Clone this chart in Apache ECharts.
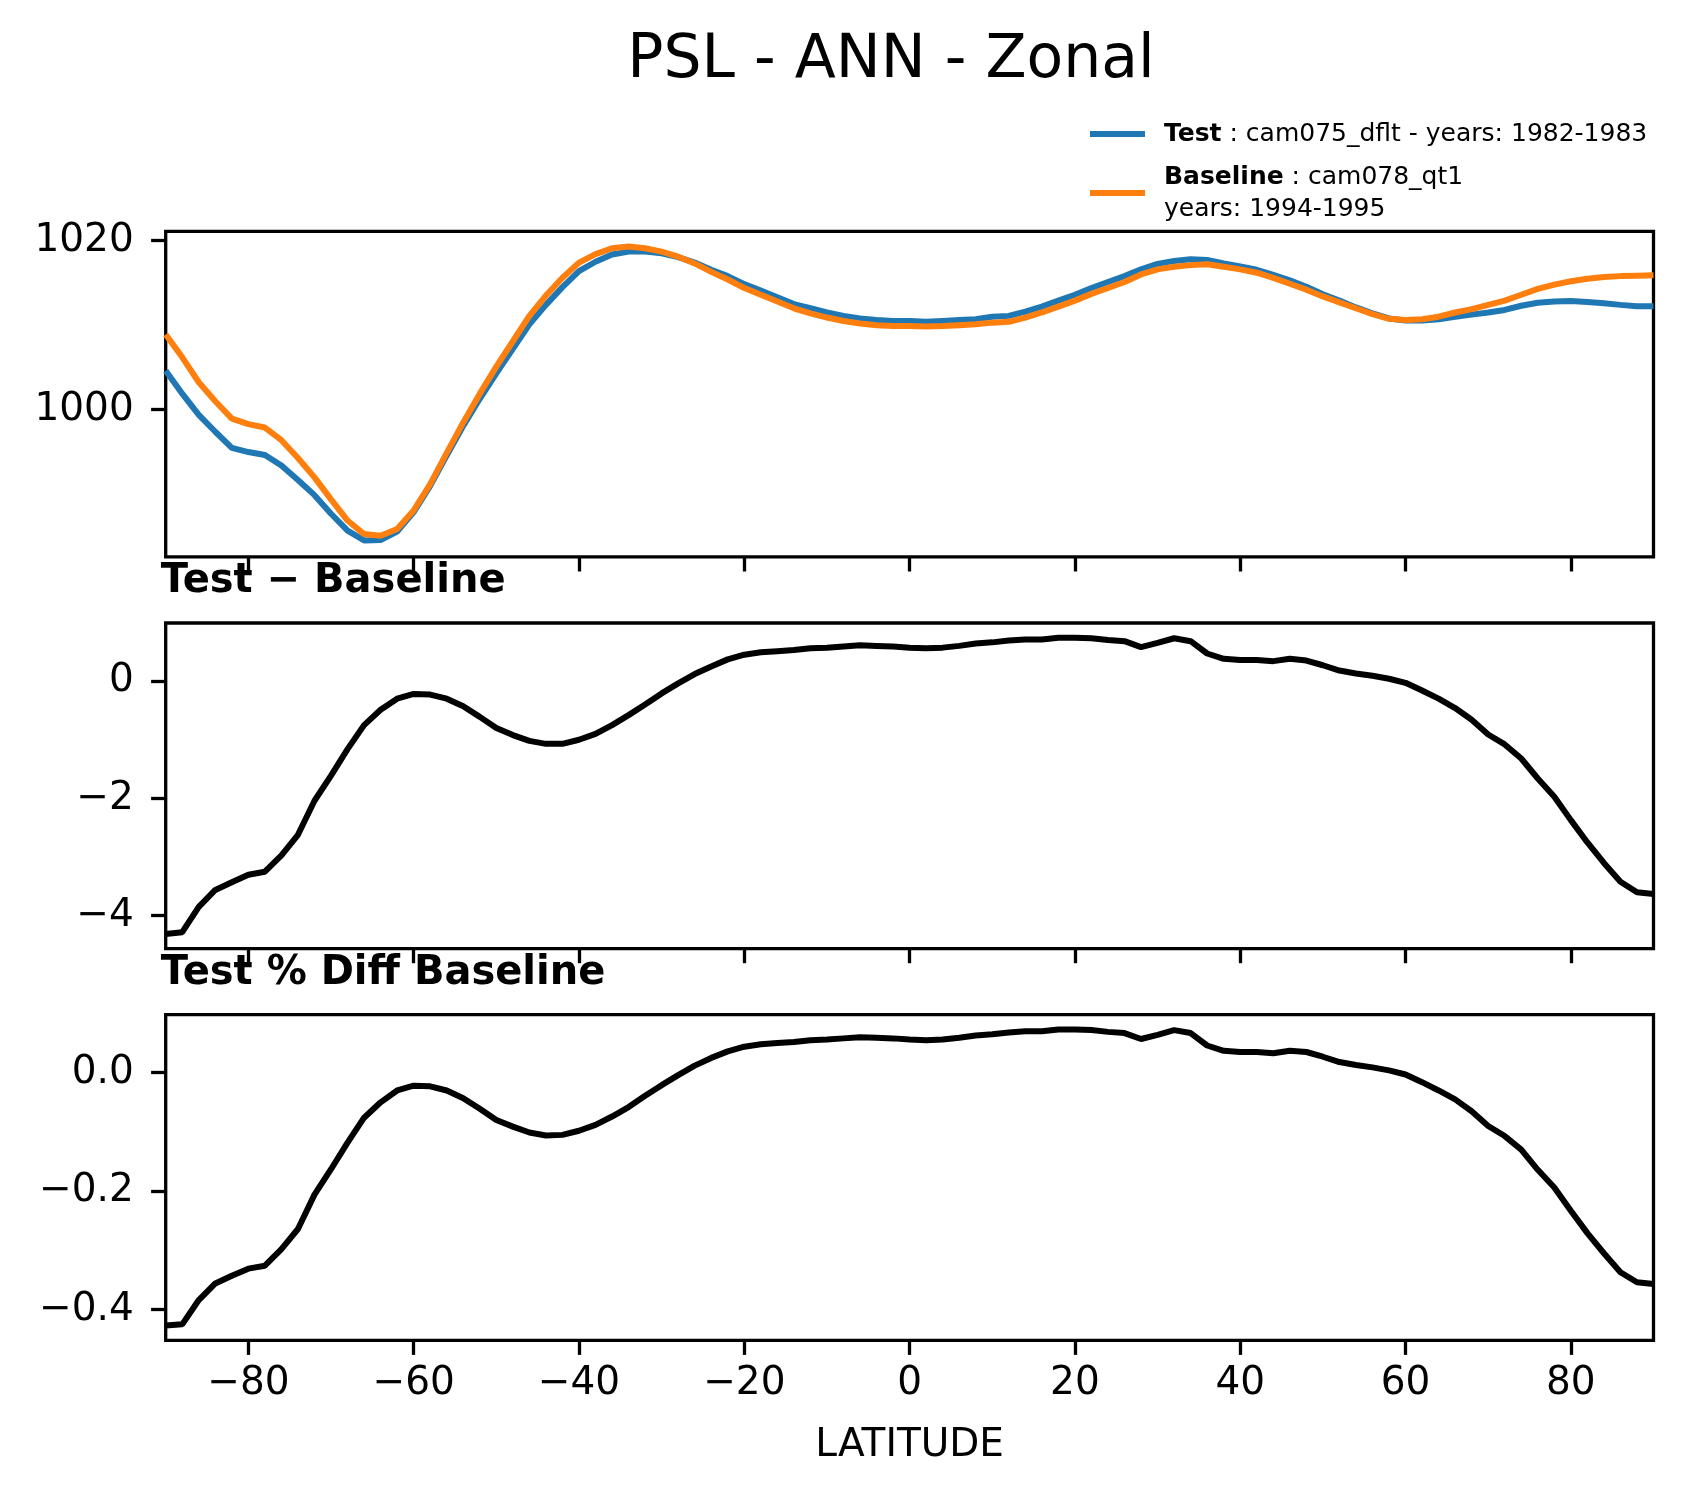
<!DOCTYPE html>
<html>
<head>
<meta charset="utf-8">
<title>PSL - ANN - Zonal</title>
<script src="https://cdn.jsdelivr.net/npm/echarts@6/dist/echarts.min.js"></script>
<style>
  html, body { margin: 0; padding: 0; background: #fff; }
  #main { width: 1683px; height: 1496px; }
</style>
</head>
<body>
<div id="main"></div>
<script>
// latitude grid, every 2 degrees
var lat = [-90, -88, -86, -84, -82, -80, -78, -76, -74, -72, -70, -68, -66, -64, -62, -60,
  -58, -56, -54, -52, -50, -48, -46, -44, -42, -40, -38, -36, -34, -32, -30, -28, -26, -24,
  -22, -20, -18, -16, -14, -12, -10, -8, -6, -4, -2, 0, 2, 4, 6, 8, 10, 12, 14, 16, 18, 20,
  22, 24, 26, 28, 30, 32, 34, 36, 38, 40, 42, 44, 46, 48, 50, 52, 54, 56, 58, 60, 62, 64,
  66, 68, 70, 72, 74, 76, 78, 80, 82, 84, 86, 88, 90];

// test run (cam075_dflt), hPa
var testPsl = [1004.6, 1001.9, 999.4, 997.4, 995.5, 995.0, 994.65, 993.4, 991.7, 989.9,
  987.7, 985.7, 984.55, 984.6, 985.6, 987.9, 991.0, 994.6, 998.1, 1001.3, 1004.3, 1007.2,
  1010.1, 1012.4, 1014.5, 1016.4, 1017.5, 1018.35, 1018.7, 1018.7, 1018.5, 1018.05, 1017.4,
  1016.55, 1015.8, 1014.85, 1014.1, 1013.3, 1012.5, 1012.0, 1011.5, 1011.1, 1010.8, 1010.6,
  1010.5, 1010.5, 1010.4, 1010.5, 1010.6, 1010.7, 1011.0, 1011.1, 1011.6, 1012.2, 1012.9,
  1013.6, 1014.4, 1015.1, 1015.8, 1016.6, 1017.25, 1017.6, 1017.8, 1017.7, 1017.3, 1016.95,
  1016.55, 1015.95, 1015.3, 1014.55, 1013.65, 1012.9, 1012.1, 1011.4, 1010.8, 1010.55,
  1010.55, 1010.7, 1011.0, 1011.25, 1011.5, 1011.8, 1012.3, 1012.65, 1012.8, 1012.85,
  1012.75, 1012.6, 1012.4, 1012.25, 1012.25];

// baseline run (cam078_qt1), hPa
var basePsl = [1008.9, 1006.2, 1003.25, 1001.0, 998.95, 998.3, 997.9, 996.4, 994.3, 992.0,
  989.4, 986.9, 985.3, 985.1, 985.9, 988.1, 991.2, 994.9, 998.5, 1001.9, 1005.1, 1008.1,
  1011.1, 1013.5, 1015.6, 1017.4, 1018.4, 1019.1, 1019.3, 1019.1, 1018.7, 1018.1, 1017.3,
  1016.3, 1015.4, 1014.4, 1013.6, 1012.8, 1012.0, 1011.4, 1010.9, 1010.5, 1010.2, 1010.0,
  1009.9, 1009.9, 1009.85, 1009.9, 1010.0, 1010.1, 1010.3, 1010.4, 1010.9, 1011.5, 1012.2,
  1012.9, 1013.7, 1014.4, 1015.1, 1016.0, 1016.6, 1016.9, 1017.1, 1017.2, 1016.9, 1016.6,
  1016.2, 1015.6, 1014.9, 1014.2, 1013.4, 1012.7, 1012.0, 1011.3, 1010.75, 1010.6, 1010.7,
  1011.0, 1011.5, 1011.9, 1012.4, 1012.9, 1013.6, 1014.3, 1014.8, 1015.2, 1015.5, 1015.7,
  1015.8, 1015.85, 1015.9];

// test - baseline
var diffPsl = [-4.31, -4.28, -3.85, -3.56, -3.43, -3.30, -3.25, -2.97, -2.62, -2.04, -1.61,
  -1.16, -0.75, -0.49, -0.30, -0.22, -0.23, -0.30, -0.43, -0.61, -0.80, -0.92, -1.02, -1.07,
  -1.07, -1.00, -0.90, -0.75, -0.58, -0.40, -0.21, -0.04, 0.12, 0.25, 0.37, 0.45, 0.49, 0.51,
  0.53, 0.56, 0.57, 0.59, 0.61, 0.60, 0.59, 0.57, 0.56, 0.57, 0.60, 0.64, 0.66, 0.69, 0.71,
  0.71, 0.74, 0.74, 0.73, 0.70, 0.68, 0.58, 0.65, 0.73, 0.68, 0.47, 0.38, 0.36, 0.36, 0.34,
  0.38, 0.35, 0.27, 0.18, 0.13, 0.09, 0.04, -0.03, -0.16, -0.30, -0.46, -0.66, -0.91, -1.08,
  -1.32, -1.66, -1.97, -2.37, -2.75, -3.10, -3.42, -3.60, -3.63];

// test % diff baseline
var pctPsl = [-0.427, -0.425, -0.384, -0.356, -0.343, -0.331, -0.326, -0.298, -0.264, -0.206,
  -0.163, -0.118, -0.076, -0.050, -0.030, -0.022, -0.023, -0.030, -0.043, -0.061, -0.080,
  -0.091, -0.101, -0.106, -0.105, -0.098, -0.088, -0.074, -0.058, -0.039, -0.021, -0.004,
  0.012, 0.025, 0.036, 0.044, 0.048, 0.050, 0.052, 0.055, 0.056, 0.058, 0.060, 0.059, 0.058,
  0.056, 0.055, 0.056, 0.059, 0.063, 0.065, 0.068, 0.070, 0.070, 0.073, 0.073, 0.072, 0.069,
  0.067, 0.057, 0.064, 0.072, 0.067, 0.046, 0.037, 0.035, 0.035, 0.033, 0.037, 0.035, 0.027,
  0.018, 0.013, 0.009, 0.004, -0.003, -0.016, -0.030, -0.045, -0.065, -0.090, -0.107, -0.130,
  -0.164, -0.194, -0.233, -0.271, -0.305, -0.337, -0.354, -0.357];

var latTicks = [-80, -60, -40, -20, 0, 20, 40, 60, 80];
var pslTicks = [1000, 1020];
var diffTicks = [-4, -2, 0];
var pctTicks = [-0.4, -0.2, 0];

var myChart = echarts.init(document.getElementById('main'));

var FONT = 'DejaVu Sans';
var LW = 3.3;        // spine / tick width
var PX = 165.7, PW = 1487.8, PH = 325.6;
var tops = [231.3, 623.0, 1014.7];

function minus(s) { return String(s).replace('-', '\u2212'); }
function pairs(ys) { return lat.map(function (x, i) { return [x, ys[i]]; }); }

function xAxis(idx, showLabels) {
  return {
    type: 'value', gridIndex: idx, min: -90, max: 90, position: 'bottom',
    axisLine: { show: false, onZero: false },
    splitLine: { show: false },
    axisTick: { show: true, inside: false, length: 14.6, customValues: latTicks,
      lineStyle: { color: '#000', width: LW } },
    axisLabel: { show: showLabels, customValues: latTicks, margin: 24, fontSize: 39,
      color: '#000', fontFamily: FONT, formatter: minus },
    name: showLabels ? 'LATITUDE' : '',
    nameLocation: 'middle', nameGap: 86,
    nameTextStyle: { fontSize: 39, color: '#000', fontFamily: FONT }
  };
}

function yAxis(idx, min, max, ticks, fmt) {
  return {
    type: 'value', gridIndex: idx, min: min, max: max, position: 'left',
    axisLine: { show: false, onZero: false },
    splitLine: { show: false },
    axisTick: { show: true, inside: false, length: 14.6, customValues: ticks,
      lineStyle: { color: '#000', width: LW } },
    axisLabel: { customValues: ticks, margin: 32, fontSize: 39, color: '#000',
      fontFamily: FONT, formatter: fmt }
  };
}

var option = {
  animation: false,
  backgroundColor: '#fff',
  textStyle: { fontFamily: FONT },
  title: [
    { text: 'PSL - ANN - Zonal', left: 886, top: 26, textAlign: 'center',
      textStyle: { fontSize: 60, fontWeight: 'normal', color: '#000', fontFamily: FONT, lineHeight: 60 } },
    { text: 'Test \u2212 Baseline', left: PX - 5, top: 562, padding: 0,
      textStyle: { fontSize: 40, fontWeight: 'bold', color: '#000', fontFamily: FONT, lineHeight: 40 } },
    { text: 'Test % Diff Baseline', left: PX - 5, top: 954, padding: 0,
      textStyle: { fontSize: 40, fontWeight: 'bold', color: '#000', fontFamily: FONT, lineHeight: 40 } }
  ],
  legend: {
    left: 1090, top: 118, orient: 'vertical', padding: 0,
    itemGap: 11, itemWidth: 55, itemHeight: 6, icon: 'rect',
    data: ['Test', 'Baseline'],
    formatter: function (name) {
      if (name === 'Test') return '{sp|}{b|Test}{n| : cam075_dflt - years: 1982-1983}';
      return '{sp|}{b|Baseline}{n| : cam078_qt1}\n{sp|}{n|years: 1994-1995}';
    },
    textStyle: {
      fontSize: 25, lineHeight: 32, color: '#000', fontFamily: FONT,
      rich: {
        sp: { width: 14, lineHeight: 32 },
        b: { fontWeight: 'bold', fontSize: 25, lineHeight: 32, color: '#000', fontFamily: FONT },
        n: { fontSize: 25, lineHeight: 32, color: '#000', fontFamily: FONT }
      }
    }
  },
  grid: tops.map(function (t) {
    return { left: PX, top: t, width: PW, height: PH, show: true,
      borderColor: '#000', borderWidth: LW, backgroundColor: 'transparent',
      containLabel: false, outerBoundsMode: 'none' };
  }),
  xAxis: [xAxis(0, false), xAxis(1, false), xAxis(2, true)],
  yAxis: [
    yAxis(0, 982.6, 1021.1, pslTicks, function (v) { return String(v); }),
    yAxis(1, -4.56, 0.99, diffTicks, minus),
    yAxis(2, -0.452, 0.098, pctTicks, function (v) { return minus(v.toFixed(1)); })
  ],
  series: [
    { name: 'Test', type: 'line', xAxisIndex: 0, yAxisIndex: 0, data: pairs(testPsl),
      showSymbol: false, symbol: 'none', color: '#1f77b4',
      lineStyle: { color: '#1f77b4', width: 6 }, z: 3 },
    { name: 'Baseline', type: 'line', xAxisIndex: 0, yAxisIndex: 0, data: pairs(basePsl),
      showSymbol: false, symbol: 'none', color: '#ff7f0e',
      lineStyle: { color: '#ff7f0e', width: 6 }, z: 4 },
    { name: 'diff', type: 'line', xAxisIndex: 1, yAxisIndex: 1, data: pairs(diffPsl),
      showSymbol: false, symbol: 'none', lineStyle: { color: '#000', width: 6 } },
    { name: 'pct', type: 'line', xAxisIndex: 2, yAxisIndex: 2, data: pairs(pctPsl),
      showSymbol: false, symbol: 'none', lineStyle: { color: '#000', width: 6 } }
  ]
};

myChart.setOption(option);
</script>
</body>
</html>
